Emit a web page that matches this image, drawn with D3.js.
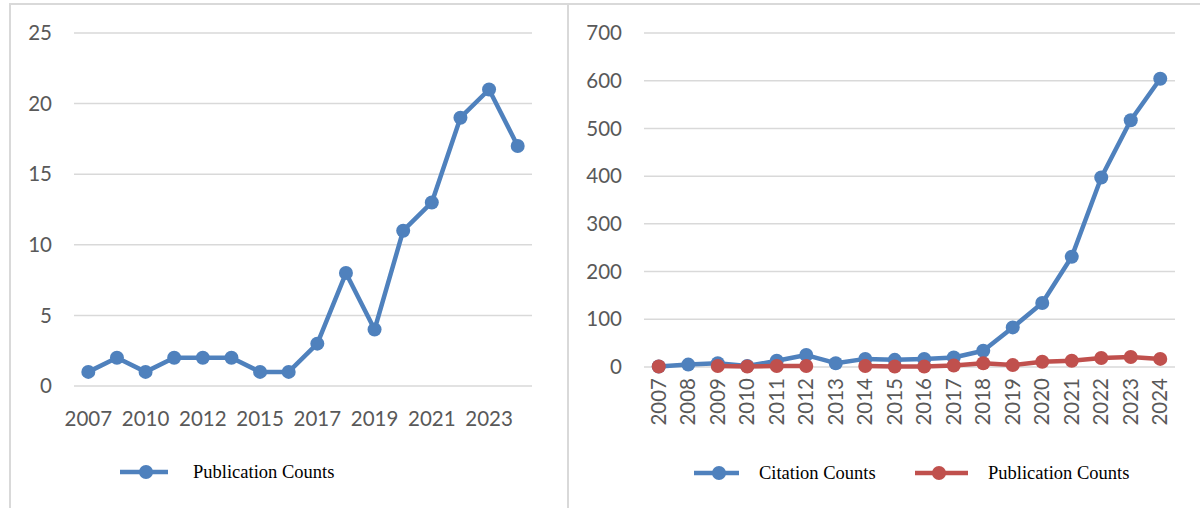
<!DOCTYPE html>
<html>
<head>
<meta charset="utf-8">
<script src="https://cdn.jsdelivr.net/npm/d3@7"></script>
<style>
  body { margin: 0; background: #fff; }
  .tick-label { font-family: Lato, "Open Sans", sans-serif; font-size: 20.5px; fill: #595959; }
  .legend-label { font-family: "Liberation Serif", "DejaVu Serif", serif; font-size: 18.5px; fill: #000; }
</style>
</head>
<body>
<div id="chart"></div>
<script>
// Data
var leftYears = ["2007", "2009", "2010", "2011", "2012", "2014", "2015", "2016",
                 "2017", "2018", "2019", "2020", "2021", "2022", "2023", "2024"];
var leftXLabels = ["2007", "", "2010", "", "2012", "", "2015", "", "2017", "", "2019", "", "2021", "", "2023", ""];
var leftPublications = [1, 2, 1, 2, 2, 2, 1, 1, 3, 8, 4, 11, 13, 19, 21, 17];
var leftYTicks = [0, 5, 10, 15, 20, 25];

var rightYears = ["2007", "2008", "2009", "2010", "2011", "2012", "2013", "2014", "2015",
                  "2016", "2017", "2018", "2019", "2020", "2021", "2022", "2023", "2024"];
var citationCounts = [1, 5, 8, 2, 13, 25, 8, 17, 15, 17, 20, 34, 83, 134, 231, 397, 517, 604];
var publicationCounts = [1, null, 2, 1, 2, 2, null, 2, 1, 1, 3, 8, 4, 11, 13, 19, 21, 17];
var rightYTicks = [0, 100, 200, 300, 400, 500, 600, 700];

var blue = "#4f81bd";
var red = "#c0504d";
var gridColor = "#d9d9d9";

var svgWidth = 1200;
var svgHeight = 508;

var svg = d3.select("#chart")
  .append("svg")
  .attr("width", svgWidth)
  .attr("height", svgHeight);

// Panel borders
svg.append("rect")
  .attr("x", 10).attr("y", 4)
  .attr("width", 558).attr("height", 540)
  .attr("fill", "none").attr("stroke", gridColor).attr("stroke-width", 2);

svg.append("rect")
  .attr("x", 568).attr("y", 4)
  .attr("width", 650).attr("height", 540)
  .attr("fill", "none").attr("stroke", gridColor).attr("stroke-width", 2);

// Draw one line series with markers
function drawSeries(g, x, y, cats, values, color) {
  var pts = cats.map(function(c, i) { return { cat: c, v: values[i] }; });

  var line = d3.line()
    .defined(d => d.v != null)
    .x(d => x(d.cat))
    .y(d => y(d.v));

  g.append("path")
    .datum(pts)
    .attr("d", line)
    .attr("fill", "none")
    .attr("stroke", color)
    .attr("stroke-width", 4.5)
    .attr("stroke-linejoin", "round");

  g.append("g").selectAll("circle")
    .data(pts.filter(d => d.v != null))
    .enter()
    .append("circle")
    .attr("cx", d => x(d.cat))
    .attr("cy", d => y(d.v))
    .attr("r", 7)
    .attr("fill", color);
}

function drawGrid(g, y, ticks, x0, x1, labelX) {
  g.append("g").selectAll("line")
    .data(ticks)
    .enter()
    .append("line")
    .attr("x1", x0).attr("x2", x1)
    .attr("y1", d => y(d)).attr("y2", d => y(d))
    .attr("stroke", gridColor)
    .attr("stroke-width", 1.5);

  g.append("g").selectAll("text")
    .data(ticks)
    .enter()
    .append("text")
    .attr("class", "tick-label")
    .attr("x", labelX)
    .attr("y", d => y(d))
    .attr("dy", "0.35em")
    .attr("text-anchor", "end")
    .text(d => d);
}

function drawLegendItem(g, lx0, lx1, cx, ly, tx, color, label) {
  g.append("line")
    .attr("x1", lx0).attr("x2", lx1)
    .attr("y1", ly).attr("y2", ly)
    .attr("stroke", color).attr("stroke-width", 4.5);
  g.append("circle")
    .attr("cx", cx).attr("cy", ly).attr("r", 7).attr("fill", color);
  g.append("text")
    .attr("class", "legend-label")
    .attr("x", tx).attr("y", ly)
    .attr("dy", "0.33em")
    .text(label);
}

// ---- Left chart ----
var leftG = svg.append("g");

var xLeft = d3.scalePoint()
  .domain(leftYears)
  .range([74, 532])
  .padding(0.5);

var yLeft = d3.scaleLinear()
  .domain([0, 25])
  .range([386, 33]);

drawGrid(leftG, yLeft, leftYTicks, 74, 532, 52);

leftG.append("g").selectAll("text")
  .data(leftYears)
  .enter()
  .append("text")
  .attr("class", "tick-label")
  .attr("x", d => xLeft(d))
  .attr("y", 426)
  .attr("text-anchor", "middle")
  .text((d, i) => leftXLabels[i]);

drawSeries(leftG, xLeft, yLeft, leftYears, leftPublications, blue);

drawLegendItem(leftG, 120, 168, 146, 472, 193, blue, "Publication Counts");

// ---- Right chart ----
var rightG = svg.append("g");

var xRight = d3.scalePoint()
  .domain(rightYears)
  .range([644, 1175])
  .padding(0.5);

var yRight = d3.scaleLinear()
  .domain([0, 700])
  .range([367, 33]);

drawGrid(rightG, yRight, rightYTicks, 644, 1175, 622);

rightG.append("g").selectAll("text")
  .data(rightYears)
  .enter()
  .append("text")
  .attr("class", "tick-label")
  .attr("transform", d => `translate(${xRight(d)}, 378) rotate(-90)`)
  .attr("dy", "0.35em")
  .attr("text-anchor", "end")
  .text(d => d);

drawSeries(rightG, xRight, yRight, rightYears, citationCounts, blue);
drawSeries(rightG, xRight, yRight, rightYears, publicationCounts, red);

drawLegendItem(rightG, 694, 739, 719, 473, 759, blue, "Citation Counts");
drawLegendItem(rightG, 915, 968, 939, 473, 988, red, "Publication Counts");
</script>
</body>
</html>
